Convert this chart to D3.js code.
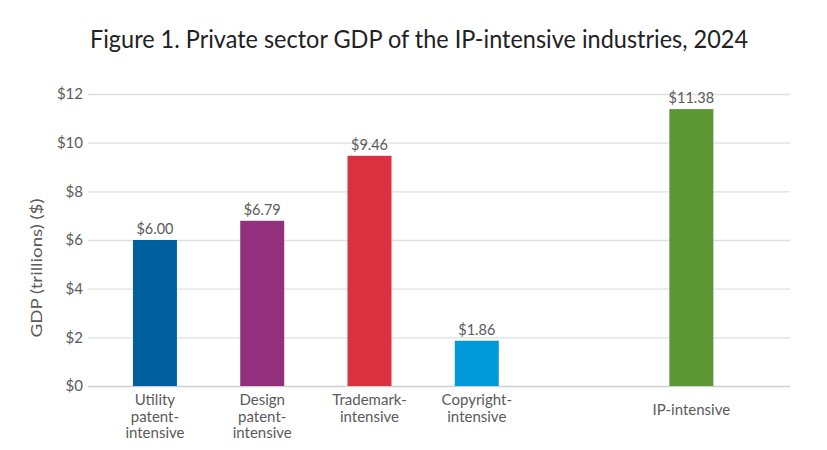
<!DOCTYPE html>
<html><head><meta charset="utf-8">
<script src="https://cdn.jsdelivr.net/npm/d3@7"></script>
<style>body{margin:0;background:#fff}svg{display:block}</style>
</head><body>
<div id="chart"></div>
<script>
const categories = ["Utility patent-intensive","Design patent-intensive","Trademark-intensive","Copyright-intensive","","IP-intensive"];
const categoryLines = [["Utility","patent-","intensive"],["Design","patent-","intensive"],["Trademark-","intensive"],["Copyright-","intensive"],[],["IP-intensive"]];
const values = [6.00, 6.79, 9.46, 1.86, null, 11.38];
const valueLabels = ["$6.00","$6.79","$9.46","$1.86","","$11.38"];
const colors = ["#005F9E","#93307E","#DA3040","#0099D9","","#5B9833"];
const yTicks = [0,2,4,6,8,10,12];
const title = "Figure 1. Private sector GDP of the IP-intensive industries, 2024";
const yTitle = "GDP (trillions) ($)";

const W = 827, H = 450;
const svg = d3.select("#chart").append("svg").attr("width", W).attr("height", H)
  .style("font-family","Lato, 'Open Sans', sans-serif");

const y = d3.scaleLinear().domain([0,12]).range([386,94]);
const x = d3.scaleBand().domain(categories).range([101.3,745]).paddingInner(0.59).paddingOuter(0.295);
const gridX0 = 88, gridX1 = 790;

svg.append("text").attr("x", 419).attr("y", 48).attr("text-anchor","middle")
  .attr("font-size", 25).attr("fill","#222")
  .attr("textLength", 658).attr("lengthAdjust","spacingAndGlyphs")
  .text(title);

// gridlines
const yAxis = d3.axisLeft(y).tickValues(yTicks).tickSize(-(gridX1-gridX0)).tickPadding(5).tickFormat(d => "$" + d);
const gy = svg.append("g").attr("transform", `translate(${gridX0},0)`).call(yAxis);
gy.select(".domain").remove();
gy.selectAll(".tick line").attr("stroke", d => d === 0 ? "#cfcfcf" : "#e0e0e0").attr("stroke-width", 1.3);
gy.selectAll(".tick text").attr("fill","#5a5a5a").attr("font-size", 15).attr("font-family","Lato, sans-serif");

svg.append("text").attr("transform","translate(42,268) rotate(-90)").attr("text-anchor","middle")
  .attr("font-size", 15).attr("fill","#5a5a5a")
  .attr("textLength", 139).attr("lengthAdjust","spacingAndGlyphs").text(yTitle);

const data = categories.map((c,i) => ({c, v: values[i], label: valueLabels[i], color: colors[i], lines: categoryLines[i]}));

svg.append("g").selectAll("rect").data(data.filter(d => d.v !== null)).join("rect")
  .attr("x", d => x(d.c)).attr("width", x.bandwidth())
  .attr("y", d => y(d.v)).attr("height", d => y(0) - y(d.v))
  .attr("fill", d => d.color);

svg.append("g").selectAll("text").data(data.filter(d => d.v !== null)).join("text")
  .attr("x", d => x(d.c) + x.bandwidth()/2).attr("y", d => y(d.v) - 6)
  .attr("text-anchor","middle").attr("font-size", 14.5).attr("fill","#5a5a5a")
  .text(d => d.label);

const lab = svg.append("g").selectAll("text").data(data.filter(d => d.lines.length)).join("text")
  .attr("text-anchor","middle").attr("font-size", 15).attr("fill","#5a5a5a")
  .attr("x", d => x(d.c) + x.bandwidth()/2)
  .attr("y", d => d.lines.length === 1 ? 415 : 405);
lab.selectAll("tspan").data(d => d.lines.map(l => ({l, cx: x(d.c) + x.bandwidth()/2}))).join("tspan")
  .attr("x", t => t.cx).attr("dy", (t,i) => i === 0 ? 0 : 16.5).text(t => t.l);
</script>
</body></html>
